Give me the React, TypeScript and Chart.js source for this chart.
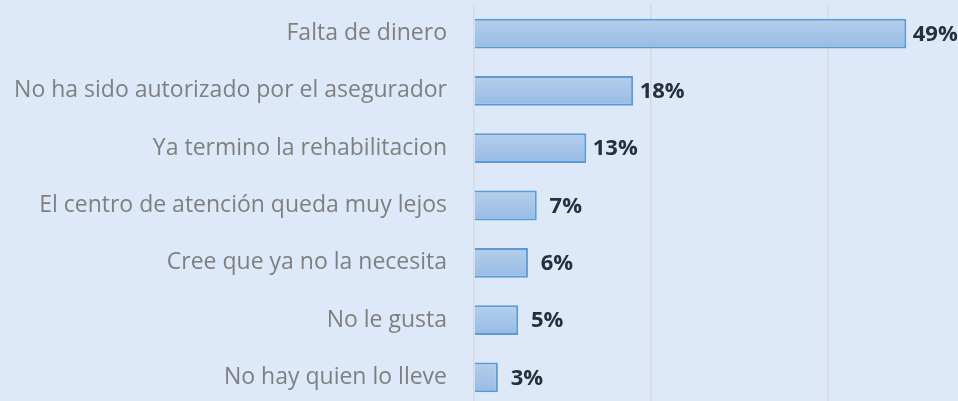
import React, { useEffect, useRef } from "react";
import { Chart, registerables } from "chart.js";

Chart.register(...registerables);

const categories = [
  "Falta de dinero",
  "No ha sido autorizado por el asegurador",
  "Ya termino la rehabilitacion",
  "El centro de atención queda muy lejos",
  "Cree que ya no la necesita",
  "No le gusta",
  "No hay quien lo lleve",
];
const values = [48.9, 18.0, 12.7, 7.1, 6.1, 5.0, 2.7];
const valueLabels = ["49%", "18%", "13%", "7%", "6%", "5%", "3%"];
const gridTicks = [0, 20, 40];

const BG = "#dde9f9";

export default function App() {
  const ref = useRef<HTMLCanvasElement | null>(null);
  useEffect(() => {
    document.body.style.margin = "0";
    document.body.style.background = BG;
    const canvas = ref.current!;
    const labelPlugin = {
      id: "valueLabels",
      afterDatasetsDraw(chart: any) {
        const ctx = chart.ctx;
        const meta = chart.getDatasetMeta(0);
        ctx.save();
        ctx.font = "bold 22px 'Open Sans'";
        ctx.fillStyle = "#262f3c";
        ctx.textAlign = "center";
        ctx.textBaseline = "middle";
        meta.data.forEach((el: any, i: number) => {
          ctx.fillText(valueLabels[i], el.x + 29, el.y + 1);
        });
        ctx.restore();
      },
    };
    const chart = new Chart(canvas, {
      type: "bar",
      data: {
        labels: categories,
        datasets: [
          {
            data: values,
            backgroundColor: (c: any) => {
              const ch = c.chart;
              const sc = ch.scales && ch.scales.y;
              if (!sc || sc.height == null) return "#a7c5e8";
              const yc = sc.getPixelForValue(c.dataIndex);
              const h = (sc.height / categories.length) * 0.52;
              const g = ch.ctx.createLinearGradient(0, yc - h / 2, 0, yc + h / 2);
              g.addColorStop(0, "#b5ceeb");
              g.addColorStop(1, "#98bbe4");
              return g;
            },
            borderColor: "#5b9bd5",
            borderWidth: 2,
            categoryPercentage: 0.52,
            barPercentage: 1,
          },
        ],
      },
      options: {
        indexAxis: "y",
        animation: false,
        responsive: false,
        devicePixelRatio: 1,
        layout: { padding: { top: 5, right: 42, bottom: 4, left: 0 } },
        plugins: { legend: { display: false }, tooltip: { enabled: false } },
        scales: {
          x: {
            min: 0,
            max: 50,
            afterBuildTicks: (s: any) => {
              s.ticks = gridTicks.map((v) => ({ value: v }));
            },
            ticks: { display: false },
            grid: { color: "#d6d9de", lineWidth: 1.5, drawTicks: false },
            border: { display: false },
          },
          y: {
            afterFit: (s: any) => {
              s.width = 474;
              s.paddingTop = 0;
              s.paddingBottom = 0;
            },
            ticks: {
              color: "#7f7f7f",
              font: { family: "'Open Sans'", size: 23 },
              padding: 27,
            },
            grid: { display: false, drawTicks: false },
            border: { display: false },
          },
        },
      },
      plugins: [labelPlugin],
    });
    return () => chart.destroy();
  }, []);
  return (
    <div style={{ width: 958, height: 401, overflow: "hidden", background: BG }}>
      <canvas ref={ref} width={958} height={410} style={{ display: "block" }} />
    </div>
  );
}
